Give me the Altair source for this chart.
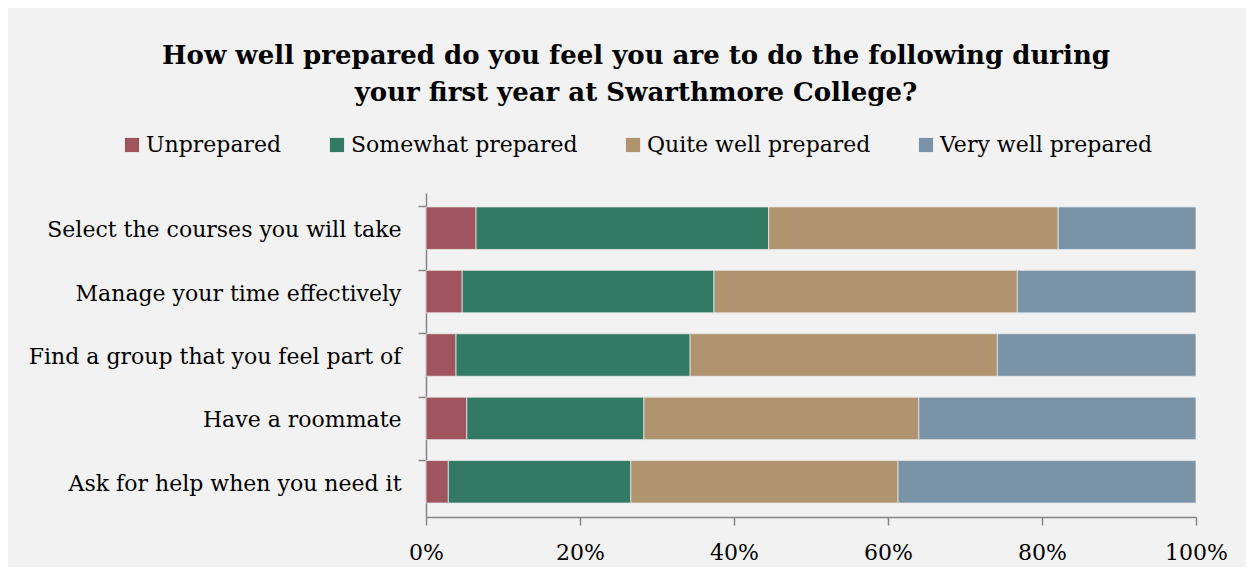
import altair as alt
import pandas as pd

questions = [
    "Select the courses you will take",
    "Manage your time effectively",
    "Find a group that you feel part of",
    "Have a roommate",
    "Ask for help when you need it",
]
levels = ["Unprepared", "Somewhat prepared", "Quite well prepared", "Very well prepared"]
colors = ["#A0555E", "#337A64", "#B09470", "#7A93A7"]

unprepared = [6.5, 4.7, 3.9, 5.3, 2.9]
somewhat = [38.0, 32.7, 30.4, 23.0, 23.7]
quite = [37.6, 39.4, 39.9, 35.7, 34.7]
very = [17.9, 23.2, 25.8, 36.0, 38.7]

rows = []
for i, q in enumerate(questions):
    for j, (lvl, vals) in enumerate(zip(levels, [unprepared, somewhat, quite, very])):
        rows.append({"question": q, "level": lvl, "order": j, "value": vals[i] / 100.0})
df = pd.DataFrame(rows)

FONT = "DejaVu Serif"

chart = alt.Chart(df).mark_bar(stroke="#e6e6e6", strokeWidth=0.8).encode(
    y=alt.Y("question:N", sort=questions, title=None,
            scale=alt.Scale(paddingInner=0.33, paddingOuter=0.22),
            axis=alt.Axis(bandPosition=0, tickSize=8, tickColor="#868686", domainColor="#868686",
                          domainWidth=1.5, tickWidth=1.5, labelPadding=17, labelFontSize=22,
                          labelFont=FONT, labelColor="#000000", labelLimit=500, labelOffset=2)),
    x=alt.X("value:Q", stack="zero", title=None,
            scale=alt.Scale(domain=[0, 1], nice=False),
            axis=alt.Axis(format="%", values=[0, 0.2, 0.4, 0.6, 0.8, 1.0], grid=False,
                          tickSize=8, tickColor="#868686", domainColor="#868686",
                          domainWidth=1.5, tickWidth=1.5, labelPadding=17, labelFontSize=22,
                          labelFont=FONT, labelColor="#000000", labelFlush=False)),
    color=alt.Color("level:N", sort=levels, scale=alt.Scale(domain=levels, range=colors),
                    legend=alt.Legend(title=None, orient="none", direction="horizontal",
                                      legendX=-305, legendY=-59, symbolType="square",
                                      symbolSize=200, symbolStrokeWidth=0, labelFontSize=22,
                                      labelFont=FONT, labelColor="#000000", labelOffset=3,
                                      columnPadding=44, labelLimit=400)),
    order=alt.Order("order:Q"),
).properties(
    width=770,
    height=324,
    title=alt.TitleParams(
        text=["How well prepared do you feel you are to do the following during",
              "your first year at Swarthmore College?"],
        font=FONT, fontSize=26, fontWeight="bold", color="#000000",
        anchor="middle", frame="group", dx=-175, offset=28, lineHeight=37,
    ),
    autosize=alt.AutoSizeParams(type="none"),
    padding={"left": 418, "top": 185, "right": 50, "bottom": 50},
    background="#F2F2F2",
).configure_view(stroke=None)

chart.save("out.html", embed_options={"renderer": "svg", "actions": False})
